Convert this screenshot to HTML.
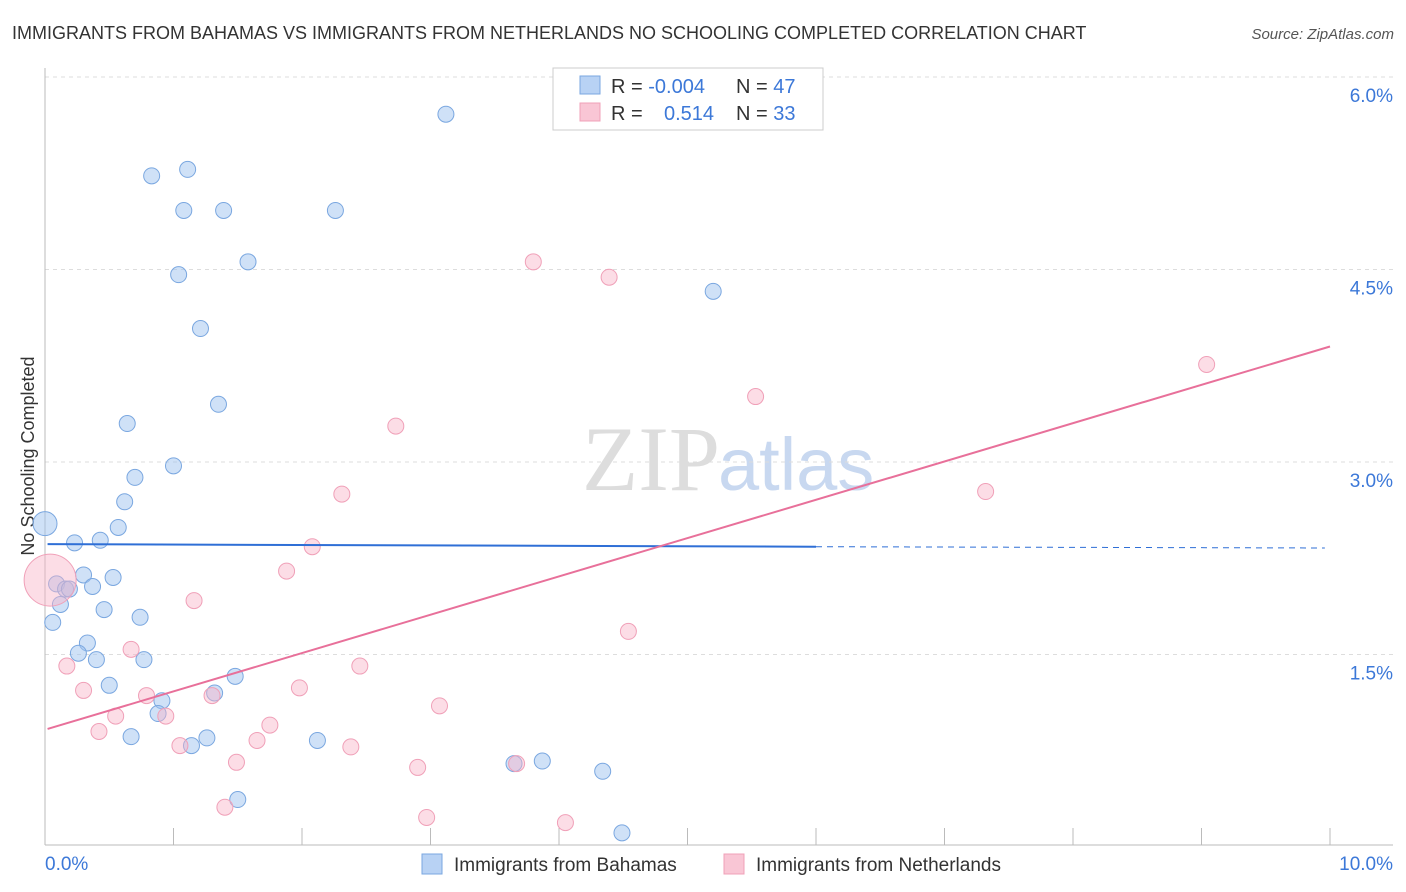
<!DOCTYPE html>
<html><head><meta charset="utf-8"><style>
body{margin:0;background:#fff;font-family:"Liberation Sans",sans-serif}
#wrap{position:relative;width:1406px;height:892px;overflow:hidden}
</style></head><body>
<div id="wrap">
<svg id="svg" width="1406" height="892" xmlns="http://www.w3.org/2000/svg">
<text x="12" y="39" font-size="18" fill="#333">IMMIGRANTS FROM BAHAMAS VS IMMIGRANTS FROM NETHERLANDS NO SCHOOLING COMPLETED CORRELATION CHART</text>
<text x="1394" y="39" font-size="15" fill="#555" text-anchor="end" font-style="italic">Source: ZipAtlas.com</text>
<text x="720" y="490" font-size="92" fill="#ddd" text-anchor="end" font-family="Liberation Serif">ZIP</text>
<text x="718" y="490" font-size="74" fill="#c8d8f0">atlas</text>
<text transform="translate(34,456) rotate(-90)" font-size="18" fill="#333" text-anchor="middle">No Schooling Completed</text>
<g id="grid"></g><g id="marks"></g>
<g>
<rect x="553" y="68" width="270" height="62" fill="#fff" stroke="#ccc"/>
<rect x="580" y="76" width="20" height="18" fill="#b8d2f4" stroke="#7aa7e0"/>
<rect x="580" y="103" width="20" height="18" fill="#f9c6d5" stroke="#f0a0b8"/>
<text x="611" y="93" font-size="20" fill="#333">R = <tspan fill="#3c78d8">-0.004</tspan><tspan x="736">N = </tspan><tspan fill="#3c78d8">47</tspan></text>
<text x="611" y="120" font-size="20" fill="#333">R = <tspan x="664" fill="#3c78d8">0.514</tspan><tspan x="736">N = </tspan><tspan fill="#3c78d8">33</tspan></text>
</g>
<g>
<rect x="422" y="854" width="20" height="20" fill="#b8d2f4" stroke="#7aa7e0"/>
<text x="454" y="871" font-size="19" fill="#333">Immigrants from Bahamas</text>
<rect x="724" y="854" width="20" height="20" fill="#f9c6d5" stroke="#f0a0b8"/>
<text x="756" y="871" font-size="19" fill="#333">Immigrants from Netherlands</text>
</g>
</svg>
<script>
const blueX=[3.12,0.83,1.11,1.08,1.39,2.26,1.04,1.58,5.20,1.21,1.35,0.64,1.00,0.70,0.62,0.0,0.57,0.23,0.43,0.30,0.53,0.09,0.16,0.19,0.37,0.12,0.46,0.74,0.06,0.33,0.26,0.40,0.77,1.48,0.50,1.32,0.91,0.88,0.67,1.26,1.14,2.12,3.65,3.87,4.34,1.50,4.49];
const blueY=[5.71,5.23,5.28,4.96,4.96,4.96,4.46,4.56,4.33,4.04,3.45,3.30,2.97,2.88,2.69,2.52,2.49,2.37,2.39,2.12,2.10,2.05,2.01,2.01,2.03,1.89,1.85,1.79,1.75,1.59,1.51,1.46,1.46,1.33,1.26,1.20,1.14,1.04,0.86,0.85,0.79,0.83,0.65,0.67,0.59,0.37,0.11];
const pinkX=[3.80,4.39,9.04,5.53,2.73,2.31,7.32,2.08,1.88,1.16,4.54,0.67,0.17,2.45,0.30,0.79,1.98,1.30,0.55,0.94,1.75,3.07,0.42,1.05,1.65,2.38,1.49,2.90,3.67,1.40,2.97,4.05,0.04];
const pinkY=[4.56,4.44,3.76,3.51,3.28,2.75,2.77,2.34,2.15,1.92,1.68,1.54,1.41,1.41,1.22,1.18,1.24,1.18,1.02,1.02,0.95,1.10,0.90,0.79,0.83,0.78,0.66,0.62,0.65,0.31,0.23,0.19,2.08];
const blueTrendX=[0.02,6.0,9.96];
const blueTrendY=[2.36,2.34,2.33];
const pinkTrendX=[0.02,10.0];
const pinkTrendY=[0.92,3.90];
const yTicks=[1.5,3.0,4.5,6.0];
const xTicks=[0,1,2,3,4,5,6,7,8,9,10];
const xs=v=>45+v*128.5, ys=v=>847-v*128.33;
const NS="http://www.w3.org/2000/svg";
const grid=document.getElementById('grid'), marks=document.getElementById('marks');
function mk(tag,attrs,parent){const e=document.createElementNS(NS,tag);for(const k in attrs)e.setAttribute(k,attrs[k]);parent.appendChild(e);return e;}
yTicks.forEach(t=>{
 const l=mk('line',{x1:45,x2:1393,y1:ys(t),y2:ys(t),stroke:'#ddd','stroke-dasharray':'4,4'},grid);
 
 
 const tx=mk('text',{x:1393,y:ys(t)+25,'font-size':19,fill:'#3c78d8','text-anchor':'end'},grid);
 tx.textContent=t.toFixed(1)+'%';
 
 
});
let a=mk('line',{x1:45,x2:45,y1:68,y2:845,stroke:'#bbb'},grid);


a=mk('line',{x1:45,x2:1393,y1:845,y2:845,stroke:'#bbb'},grid);


xTicks.forEach(t=>{
 const l=mk('line',{x1:xs(t),x2:xs(t),y1:828,y2:845,stroke:'#bbb'},grid);
 
 
});
[[0,'0.0%','start',45],[10,'10.0%','end',1393]].forEach(d=>{
 const tx=mk('text',{x:d[3],y:870,'font-size':19,fill:'#3c78d8','text-anchor':d[2]},grid);
 tx.textContent=d[1];
 
 
});
blueX.forEach((x,i)=>{
 const c=mk('circle',{cx:xs(x),cy:ys(blueY[i]),r:i==15?12:8,fill:'rgba(160,196,240,0.5)',stroke:'#7aa7e0','stroke-width':1},marks);
 
 
});
pinkX.forEach((x,i)=>{
 const c=mk('circle',{cx:xs(x),cy:ys(pinkY[i]),r:i==32?26:8,fill:'rgba(248,180,200,0.45)',stroke:'#f0a0b8','stroke-width':1},marks);
 
 
});
let t=mk('line',{x1:xs(blueTrendX[0]),y1:ys(blueTrendY[0]),x2:xs(blueTrendX[1]),y2:ys(blueTrendY[1]),stroke:'#2f6fd6','stroke-width':2},marks);


t=mk('line',{x1:xs(blueTrendX[1]),y1:ys(blueTrendY[1]),x2:xs(blueTrendX[2]),y2:ys(blueTrendY[2]),stroke:'#2f6fd6','stroke-width':1,'stroke-dasharray':'6,5'},marks);


t=mk('line',{x1:xs(pinkTrendX[0]),y1:ys(pinkTrendY[0]),x2:xs(pinkTrendX[1]),y2:ys(pinkTrendY[1]),stroke:'#e8709a','stroke-width':2},marks);


</script>
</div>
</body></html>
